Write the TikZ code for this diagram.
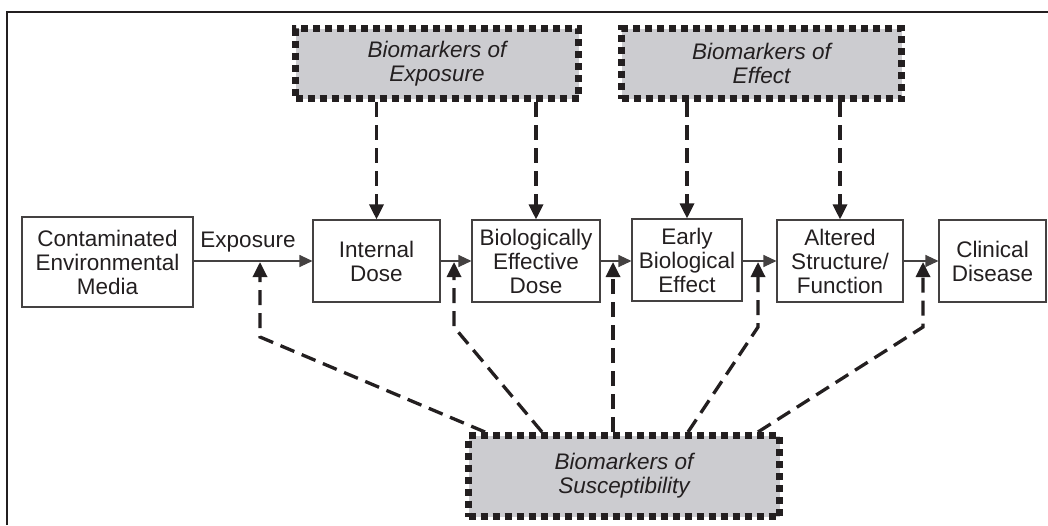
\documentclass[tikz,border=0pt]{standalone}
\usepackage{fontspec}
\setmainfont{Liberation Sans}
\usetikzlibrary{arrows.meta}
\definecolor{ink}{RGB}{35,31,32}
\definecolor{bmgray}{RGB}{204,204,208}
\begin{document}
\begin{tikzpicture}[x=1pt,y=-1pt,
  font=\fontsize{22.5}{24}\selectfont,
  box/.style={draw=ink!85,line width=1.1pt,text=ink,align=center,inner sep=0pt},
  bm/.style={draw=ink,fill=bmgray,line width=7pt,dash pattern=on 7pt off 5pt,
    text=ink,align=center,inner sep=0pt,font=\fontsize{22.5}{24}\selectfont\itshape},
  flow/.style={draw=ink!85,line width=1.1pt,-{Triangle[length=13pt,width=12pt]}},
  dflow/.style={draw=ink,line width=3.3pt,dash pattern=on 15pt off 8pt,
    -{Triangle[length=15pt,width=14pt]}}]
\useasboundingbox (0,0) rectangle (1048,525);
\draw[ink,line width=2pt] (7,525) -- (7,12) -- (1048,12);
% main row
\node[box,minimum width=171pt,minimum height=90pt] (cem) at (107.5,262) {Contaminated\\Environmental\\Media};
\node[box,minimum width=127pt,minimum height=82pt] (id) at (376.5,261) {Internal\\Dose};
\node[box,minimum width=128pt,minimum height=82pt] (bed) at (536,261) {Biologically\\Effective\\Dose};
\node[box,minimum width=110pt,minimum height=82pt] (ebe) at (687,260) {Early\\Biological\\Effect};
\node[box,minimum width=126pt,minimum height=82pt] (asf) at (840,261) {Altered\\Structure/\\Function};
\node[box,minimum width=107pt,minimum height=82pt] (cd) at (992.5,261) {Clinical\\Disease};
\node[text=ink,inner sep=0pt] (explbl) at (248,242) {Exposure};
% biomarker boxes
\node[bm,minimum width=283pt,minimum height=70pt] (bexp) at (437,63.5) {Biomarkers of\\Exposure};
\node[bm,minimum width=280pt,minimum height=70pt] (beff) at (761.5,63.5) {Biomarkers of\\Effect};
\node[bm,minimum width=311pt,minimum height=81pt] (bsus) at (624,476) {Biomarkers of\\Susceptibility};
% flow arrows
\draw[flow] (cem.east |- 0,261) -- (id.west |- 0,261);
\draw[flow] (id.east |- 0,261) -- (bed.west |- 0,261);
\draw[flow] (bed.east |- 0,261) -- (ebe.west |- 0,261);
\draw[flow] (ebe.east |- 0,261) -- (asf.west |- 0,261);
\draw[flow] (asf.east |- 0,261) -- (cd.west |- 0,261);
% down arrows
\draw[dflow] (bexp.south -| id.north) -- (id.north);
\draw[dflow] (bexp.south -| bed.north) -- (bed.north);
\draw[dflow] (beff.south -| ebe.north) -- (ebe.north);
\draw[dflow] (beff.south -| asf.north) -- (asf.north);
% up arrows
\coordinate (t1) at (260,262);
\coordinate (t2) at (454,262);
\coordinate (t3) at (613,262);
\coordinate (t4) at (758,262);
\coordinate (t5) at (923,262);
\draw[dflow] (bsus.north -| 485,0) -- (260,337) -- (t1);
\draw[dflow] (bsus.north -| 542,0) -- (454,327) -- (t2);
\draw[dflow] (bsus.north -| 613,0) -- (t3);
\draw[dflow] (bsus.north -| 688,0) -- (758,327) -- (t4);
\draw[dflow] (bsus.north -| 758,0) -- (923,327) -- (t5);
\end{tikzpicture}
\end{document}
